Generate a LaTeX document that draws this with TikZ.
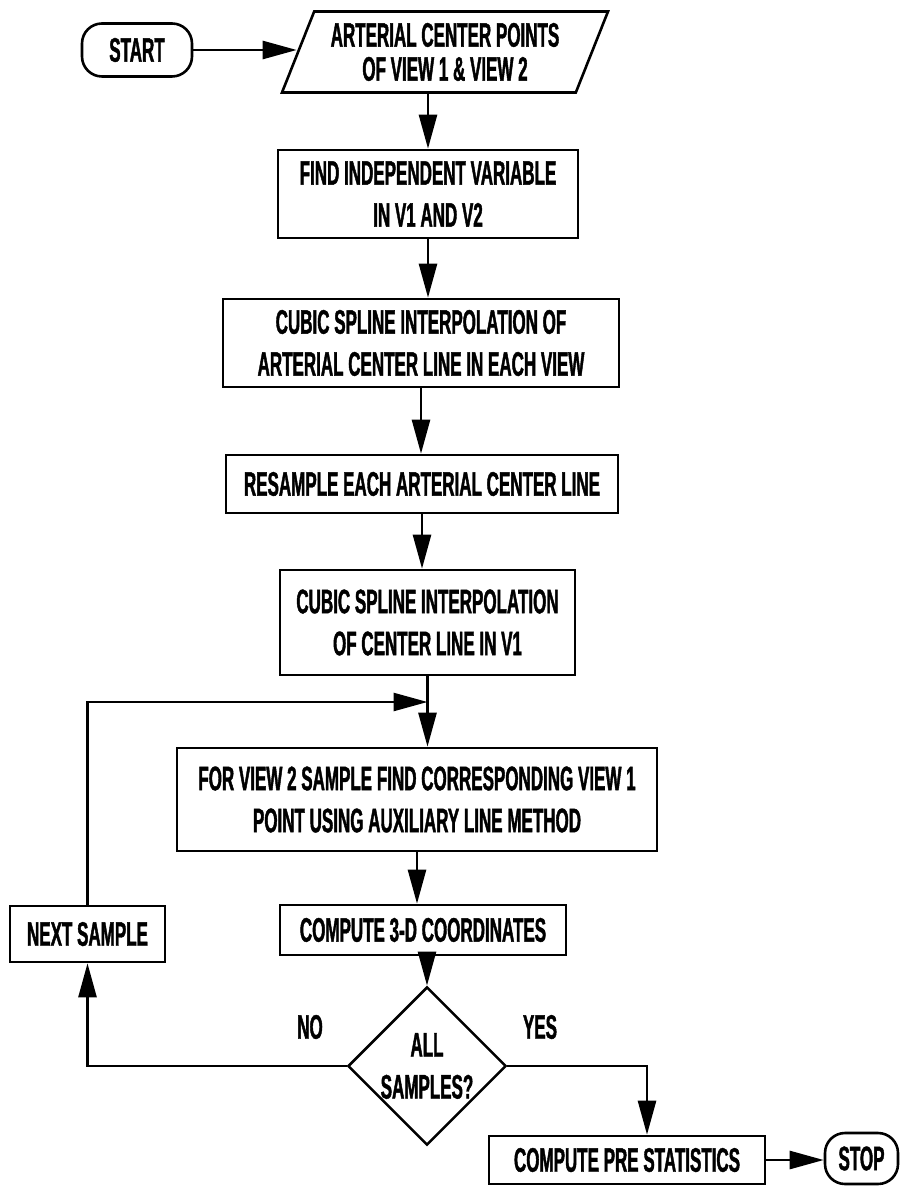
\documentclass[tikz,border=0pt]{standalone}
\usepackage{fontspec}
\setmainfont{Liberation Sans}[FakeStretch=0.5, FakeBold=1.2]
\usetikzlibrary{shapes.geometric,arrows.meta}

\begin{document}
\begin{tikzpicture}[x=0.5pt, y=-0.5pt, line width=1.3pt,
        font=\fontsize{17}{21}\selectfont\bfseries,
        box/.style={draw, rectangle, align=center, inner sep=0pt},
        term/.style={draw, rectangle, rounded corners=10pt, inner sep=0pt},
        arr/.style={-{Triangle[length=17pt, width=9pt]}}]
        \useasboundingbox (0,0) rectangle (900,1186);

        % Start and input data
        \node[term, minimum width=55pt, minimum height=26.5pt] (START) at (137,50) {START};
        \node[draw, trapezium, trapezium left angle=61, trapezium right angle=119,
              trapezium stretches body, minimum width=163pt, minimum height=40.5pt,
              inner sep=0pt, align=center] (IN) at (445,52) {ARTERIAL CENTER POINTS\\[-4pt]OF VIEW 1 \& VIEW 2};

        % Processing steps
        \node[box, minimum width=150pt, minimum height=44pt] (B1) at (428,194) {FIND INDEPENDENT VARIABLE\\IN V1 AND V2};
        \node[box, minimum width=198pt, minimum height=44pt] (B2) at (421,343) {CUBIC SPLINE INTERPOLATION OF\\ARTERIAL CENTER LINE IN EACH VIEW};
        \node[box, minimum width=196pt, minimum height=29pt] (B3) at (422,484) {RESAMPLE EACH ARTERIAL CENTER LINE};
        \node[box, minimum width=147.5pt, minimum height=52.5pt] (B4) at (427.5,622.5) {CUBIC SPLINE INTERPOLATION\\OF CENTER LINE IN V1};
        \node[box, minimum width=240pt, minimum height=51.5pt] (B5) at (417,799.5) {FOR VIEW 2 SAMPLE FIND CORRESPONDING VIEW 1\\POINT USING AUXILIARY LINE METHOD};
        \node[box, minimum width=143pt, minimum height=25pt] (B6) at (423,930) {COMPUTE 3-D COORDINATES};

        % Decision and loop
        \node[draw, diamond, align=center, inner sep=0pt, minimum width=77.5pt, minimum height=65pt] (TEST) at (427,1066) {ALL\\SAMPLES?};
        \node[box, minimum width=77.5pt, minimum height=28pt] (NEXT) at (87.5,934) {NEXT SAMPLE};
        \node (NO) at (310,1027) {NO};
        \node (YES) at (540,1027) {YES};

        % End
        \node[box, minimum width=138pt, minimum height=24pt] (STATS) at (627,1160) {COMPUTE PRE STATISTICS};
        \node[term, minimum width=36.5pt, minimum height=25.5pt] (STOP) at (861.5,1158.5) {STOP};

        % Main flow
        \draw[arr] (START.east) -- (IN.west |- START.east);
        \draw[arr] (IN.south -| B1.north) -- (B1.north);
        \draw[arr] (B1.south) -- (B1.south |- B2.north);
        \draw[arr] (B2.south) -- (B2.south |- B3.north);
        \draw[arr] (B3.south) -- (B3.south |- B4.north);
        \draw[arr] (B4.south) -- (B4.south |- B5.north);
        \draw[arr] (B5.south) -- (B5.south |- B6.north);
        \draw[arr] (TEST.north |- B6.south) -- (TEST.north);

        % Branches
        \coordinate (J) at (B4.south |- 0,702);
        \draw[arr] (TEST.west) -| (NEXT.south);
        \draw[arr] (NEXT.north) |- (J);
        \draw[arr] (TEST.east) -| ([xshift=10pt]STATS.north);
        \draw[arr] (STATS.east) -- (STATS.east -| STOP.west);
\end{tikzpicture}
\end{document}
